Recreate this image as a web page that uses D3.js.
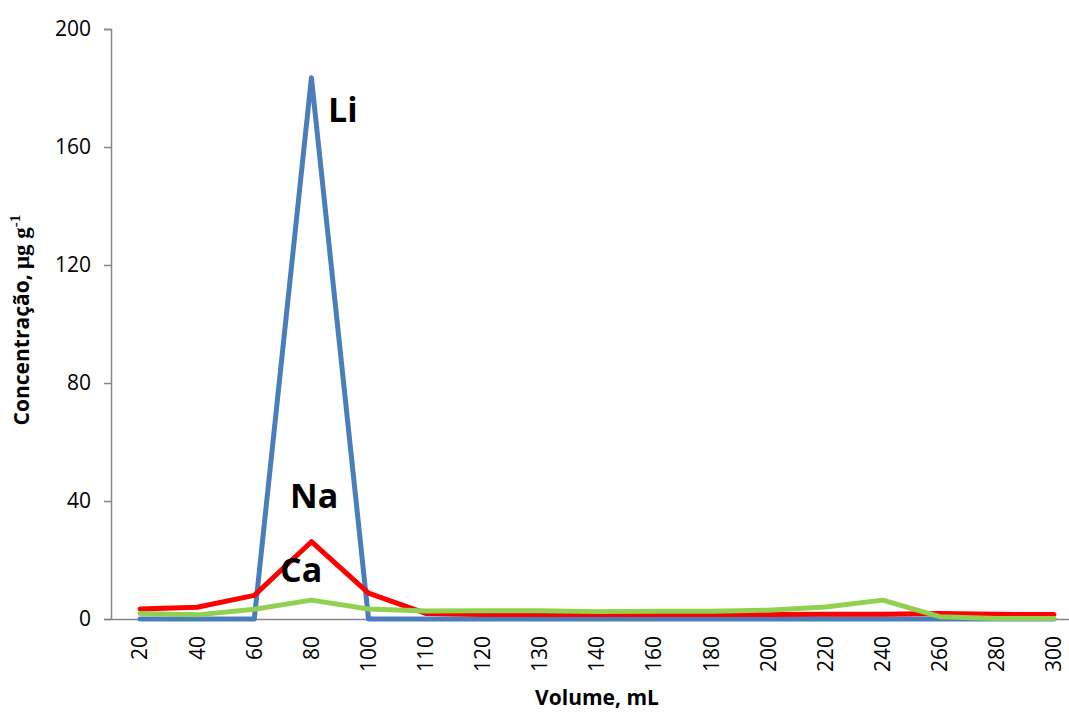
<!DOCTYPE html>
<html><head><meta charset="utf-8">
<script src="https://cdn.jsdelivr.net/npm/d3@7"></script>
<style>body{margin:0;background:#fff}</style>
</head><body>
<svg id="c" width="1069" height="713"></svg>
<script>
const categories = ["20","40","60","80","100","110","120","130","140","160","180","200","220","240","260","280","300"];
const li = [0,0,0,183.5,0,0,0,0,0,0,0,0,0,0,0,0,0];
const na = [3.4,4.0,8.0,26.2,8.8,1.9,1.5,1.5,1.5,1.5,1.5,1.5,1.6,1.6,1.9,1.6,1.5];
const ca = [1.9,1.4,3.3,6.4,3.4,2.7,2.8,2.8,2.5,2.6,2.6,3.0,4.1,6.4,0.8,0.2,0.2];
const yTicks = [0,40,80,120,160,200];

const svg = d3.select("#c");
const x = d3.scaleBand().domain(categories).range([111.5, 1082.5]);
const y = d3.scaleLinear().domain([0,200]).range([619,29]);
const font = "'Open Sans', sans-serif";

// y axis
const ya = svg.append("g").attr("transform","translate(111,0)")
  .call(d3.axisLeft(y).tickValues(yTicks).tickSize(7).tickPadding(13));
ya.select(".domain").attr("stroke","#868686").attr("stroke-width",1.5);
ya.selectAll(".tick line").attr("stroke","#868686").attr("stroke-width",1.5);
ya.selectAll("text").attr("font-family",font).attr("font-size",21).attr("fill","#000");

// x axis
const xa = svg.append("g").attr("transform","translate(0,619)")
  .call(d3.axisBottom(x).tickSize(0).tickPadding(0));
xa.select(".domain").attr("stroke","#868686").attr("stroke-width",1.5);
xa.selectAll(".tick text")
  .attr("font-family",font).attr("font-size",21).attr("fill","#000")
  .attr("transform","rotate(-90)").attr("text-anchor","end")
  .attr("x",-17).attr("y",0).attr("dy","0.35em");

// lines
const line = d3.line().x((d,i)=>x(categories[i])+x.bandwidth()/2).y(d=>y(d));
[[li,"#4A7EBB"],[na,"#FF0000"],[ca,"#92D050"]].forEach(([s,c])=>{
  svg.append("path").datum(s).attr("d",line).attr("fill","none")
    .attr("stroke",c).attr("stroke-width",5).attr("stroke-linejoin","round").attr("stroke-linecap","round");
});

// labels
const lab = (t,px,py)=>svg.append("text").attr("x",px).attr("y",py).text(t)
  .attr("font-family",font).attr("font-weight","bold").attr("font-size",34).attr("fill","#000");
lab("Li",328,122);
lab("Na",290,508);
lab("Ca",280,582);

// axis titles
svg.append("text").attr("x",597).attr("y",705).attr("text-anchor","middle")
  .attr("font-family",font).attr("font-weight","bold").attr("font-size",21).text("Volume, mL");
const yt = svg.append("text").attr("transform","translate(29,320) rotate(-90)").attr("text-anchor","middle")
  .attr("font-family",font).attr("font-weight","bold").attr("font-size",21);
yt.append("tspan").text("Concentração, ");
yt.append("tspan").attr("font-family","'Liberation Serif', 'DejaVu Serif', serif").attr("font-size",23).text("μg g");
yt.append("tspan").attr("font-family","'Liberation Serif', serif").attr("font-size",15).attr("dy",-9).text("-1");
</script>
</body></html>
